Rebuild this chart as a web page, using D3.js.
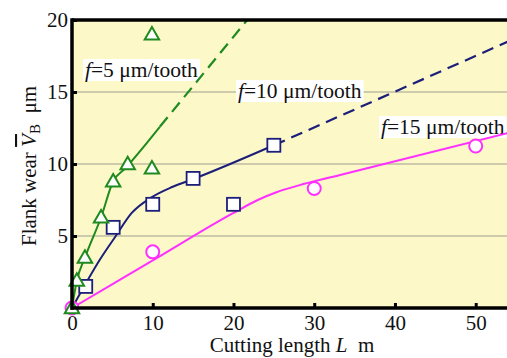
<!DOCTYPE html>
<html>
<head>
<meta charset="utf-8">
<script src="https://cdn.jsdelivr.net/npm/d3@7"></script>
<style>
body { margin: 0; background: #fff; }
svg text { font-family: 'Liberation Serif', 'Times New Roman', serif; }
</style>
</head>
<body>
<svg width="507" height="358"></svg>
<script>
// measured points
var f5L = [0, 0.6, 1.6, 3.6, 5.1, 6.9, 9.9, 9.9];
var f5W = [0, 1.9, 3.5, 6.3, 8.8, 10.0, 9.7, 19.0];
var f10L = [1.7, 5.1, 10, 15, 20, 25];
var f10W = [1.5, 5.6, 7.2, 9.0, 7.2, 11.3];
var f15L = [0, 10, 30, 50];
var f15W = [0, 3.9, 8.3, 11.25];

// fitted curves (solid part, dashed part)
var f5SolidL = [0, 0.6, 1.6, 3.6, 5.1, 6.6, 10.9];
var f5SolidW = [0, 1.9, 3.5, 6.3, 8.8, 9.7, 12.6];
var f5DashL = [10.9, 21.7];
var f5DashW = [12.6, 20];
var f10SolidL = [0, 1.6, 3.5, 5.3, 7.4, 9.9, 12.4, 15, 25];
var f10SolidW = [0, 1.6, 3.4, 4.9, 6.6, 7.7, 8.4, 8.95, 11.3];
var f10DashL = [25, 54];
var f10DashW = [11.3, 18.5];
var f15LineL = [0, 10, 20, 23, 25.4, 28, 33.2, 54];
var f15LineW = [0, 3.3, 6.6, 7.5, 8.06, 8.5, 9.24, 12.15];

var yTicks = [5, 10, 15, 20];
var xTicks = [0, 10, 20, 30, 40, 50];
var gridVals = [5, 10, 15];

var svg = d3.select("svg");
var x = d3.scaleLinear().domain([0, 54]).range([72, 508]);
var y = d3.scaleLinear().domain([0, 20]).range([308, 20]);

svg.append("rect")
    .attr("x", x(0)).attr("y", y(20))
    .attr("width", 507 - x(0)).attr("height", y(0) - y(20))
    .attr("fill", "#fcf8c8");

svg.selectAll(".grid").data(gridVals).enter().append("line")
    .attr("x1", x(0)).attr("x2", 507)
    .attr("y1", function(d) { return y(d); })
    .attr("y2", function(d) { return y(d); })
    .attr("stroke", "#a09e90").attr("stroke-width", 1.2);

function pts(a, b) { return a.map(function(v, i) { return [v, b[i]]; }); }
var line = d3.line()
    .x(function(d) { return x(d[0]); })
    .y(function(d) { return y(d[1]); })
    .curve(d3.curveMonotoneX);

var green = "#1f8a1f", navy = "#1c1f7a", pink = "#ff30ff";

// series labels (drawn under the lines)
function label(px, py, num) {
    var g = svg.append("g");
    var t = g.append("text").attr("x", px).attr("y", py)
        .attr("font-size", 21.5).attr("fill", "#111");
    t.append("tspan").attr("font-style", "italic").text("f");
    t.append("tspan").text("=" + num + " \u03bcm/tooth");
    var b = t.node().getBBox();
    g.insert("rect", "text")
        .attr("x", b.x - 2).attr("y", b.y + 1)
        .attr("width", b.width + 4).attr("height", b.height - 2)
        .attr("fill", "#fff");
}
label(85, 77, 5);
label(238, 98, 10);
label(381, 134, 15);

svg.append("path").datum(pts(f15LineL, f15LineW)).attr("d", line)
    .attr("fill", "none").attr("stroke", pink).attr("stroke-width", 2);
svg.append("path").datum(pts(f10SolidL, f10SolidW)).attr("d", line)
    .attr("fill", "none").attr("stroke", navy).attr("stroke-width", 2);
svg.append("path").datum(pts(f10DashL, f10DashW)).attr("d", line)
    .attr("fill", "none").attr("stroke", navy).attr("stroke-width", 2.2)
    .attr("stroke-dasharray", "12,7");
svg.append("path").datum(pts(f5SolidL, f5SolidW)).attr("d", line)
    .attr("fill", "none").attr("stroke", green).attr("stroke-width", 2);
svg.append("path").datum(pts(f5DashL, f5DashW)).attr("d", line)
    .attr("fill", "none").attr("stroke", green).attr("stroke-width", 2.2)
    .attr("stroke-dasharray", "12,7");

// markers
svg.selectAll(".circ").data(pts(f15L, f15W)).enter().append("circle")
    .attr("cx", function(d) { return x(d[0]); })
    .attr("cy", function(d) { return y(d[1]); })
    .attr("r", 6.5)
    .attr("fill", "#fff").attr("stroke", pink).attr("stroke-width", 2);

svg.selectAll(".sq").data(pts(f10L, f10W)).enter().append("rect")
    .attr("x", function(d) { return x(d[0]) - 6.5; })
    .attr("y", function(d) { return y(d[1]) - 6.5; })
    .attr("width", 13).attr("height", 13)
    .attr("fill", "#fff").attr("stroke", navy).attr("stroke-width", 1.8);

var tri = d3.symbol().type(d3.symbolTriangle).size(90);
svg.selectAll(".tri").data(pts(f5L, f5W)).enter().append("path")
    .attr("d", tri)
    .attr("transform", function(d) { return "translate(" + x(d[0]) + "," + (y(d[1]) + 1) + ")"; })
    .attr("fill", "#fff").attr("stroke", green).attr("stroke-width", 2);

// frame
svg.append("line").attr("x1", x(0)).attr("x2", 507).attr("y1", y(20)).attr("y2", y(20))
    .attr("stroke", "#000").attr("stroke-width", 3.5);
svg.append("line").attr("x1", x(0) - 1.5).attr("x2", 507).attr("y1", y(0)).attr("y2", y(0))
    .attr("stroke", "#000").attr("stroke-width", 3.5);
svg.append("line").attr("x1", x(0)).attr("x2", x(0)).attr("y1", y(20) - 1.7).attr("y2", y(0) + 1.7)
    .attr("stroke", "#000").attr("stroke-width", 3.5);

// axes
var xAxis = d3.axisBottom(x).tickValues(xTicks).tickSize(0).tickPadding(7);
var gx = svg.append("g").attr("transform", "translate(0," + y(0) + ")").call(xAxis)
    .attr("font-family", null);
gx.select(".domain").remove();
gx.selectAll("text").attr("font-size", 21).attr("fill", "#111");
gx.selectAll(".tick").filter(function(d) { return d > 0; }).append("line")
    .attr("y1", 0).attr("y2", -5).attr("stroke", "#000").attr("stroke-width", 3);

var yAxis = d3.axisLeft(y).tickValues(yTicks).tickSize(0).tickPadding(4);
var gy = svg.append("g").attr("transform", "translate(" + x(0) + ",0)").call(yAxis)
    .attr("font-family", null);
gy.select(".domain").remove();
gy.selectAll("text").attr("font-size", 21).attr("fill", "#111");
gy.selectAll(".tick").append("line")
    .attr("x1", 0).attr("x2", 5).attr("stroke", "#000").attr("stroke-width", 3);

// axis titles
var xt = svg.append("text").attr("x", 292).attr("y", 352)
    .attr("text-anchor", "middle").attr("font-size", 21).attr("fill", "#111");
xt.append("tspan").text("Cutting length ");
xt.append("tspan").attr("font-style", "italic").text("L");
xt.append("tspan").text("\u2002m");

var yt = svg.append("text").attr("transform", "translate(36,166) rotate(-90)")
    .attr("text-anchor", "middle").attr("font-size", 21).attr("fill", "#111");
yt.append("tspan").text("Flank wear ");
yt.append("tspan").attr("font-style", "italic").attr("text-decoration", "overline").text("V");
yt.append("tspan").attr("font-size", 15).attr("dy", 4).text("B");
yt.append("tspan").attr("dy", -4).text("\u2002\u03bcm");
</script>
</body>
</html>
